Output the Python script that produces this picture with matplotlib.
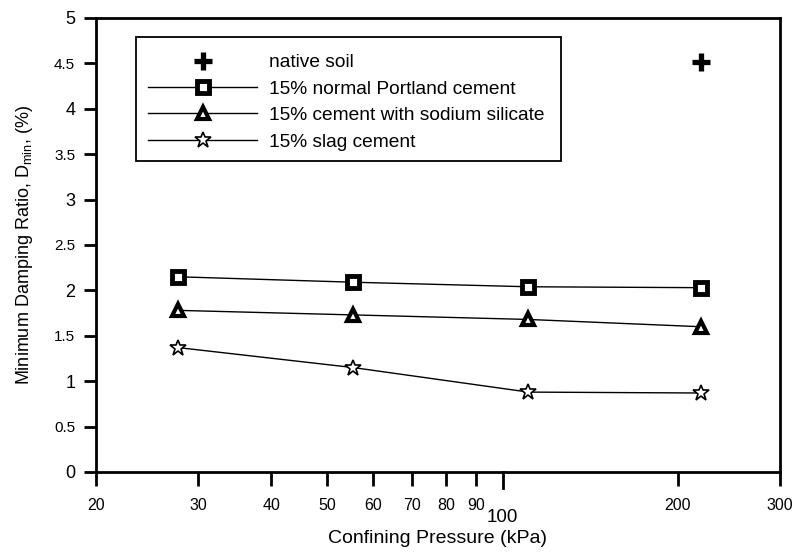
import matplotlib.pyplot as plt
from matplotlib.patches import Rectangle
from matplotlib.ticker import FixedLocator, NullLocator, NullFormatter

plt.rcParams['font.family'] = ['Liberation Sans', 'DejaVu Sans']
plt.rcParams['mathtext.default'] = 'regular'

pressure = [27.7, 55.4, 110.8, 219.0]
native_pressure = [219.0]
native_soil = [4.52]
portland = [2.15, 2.09, 2.04, 2.03]
sodium_silicate = [1.78, 1.73, 1.68, 1.60]
slag = [1.37, 1.15, 0.88, 0.87]

x_ticks = [20, 30, 40, 50, 60, 70, 80, 90, 200, 300]
y_ticks = [0, 0.5, 1, 1.5, 2, 2.5, 3, 3.5, 4, 4.5, 5]


def main():
    fig = plt.figure(figsize=(7.96, 5.52), dpi=100)
    ax = fig.add_axes([96 / 796, 80 / 552, 684 / 796, 454 / 552])

    ax.plot(native_pressure, native_soil, linestyle='none', marker='+',
            markersize=13, markeredgewidth=3.8, color='black', label='native soil')
    ax.plot(pressure, portland, color='black', lw=1, marker='s',
            markersize=8, markerfacecolor='white', markeredgewidth=3.5,
            label='15% normal Portland cement')
    ax.plot(pressure, sodium_silicate, color='black', lw=1, marker='^',
            markersize=9, markerfacecolor='white', markeredgewidth=3,
            label='15% cement with sodium silicate')
    ax.plot(pressure, slag, color='black', lw=1, marker='*',
            markersize=12, markerfacecolor='white', markeredgewidth=1.2,
            label='15% slag cement')

    ax.set_xscale('log')
    ax.set_xlim(20, 300)
    ax.set_ylim(0, 5)

    ax.xaxis.set_major_locator(FixedLocator(x_ticks))
    ax.xaxis.set_minor_locator(NullLocator())
    ax.xaxis.set_minor_formatter(NullFormatter())
    ax.set_xticklabels([str(t) for t in x_ticks], fontsize=11.5)
    ax.tick_params(axis='x', direction='out', length=10, width=2, pad=9)

    # 100 gets a longer tick and a larger label set lower
    ax.axvline(100, ymin=-0.035, ymax=0, color='black', lw=2, clip_on=False)
    ax.text(100, -0.5, '100', ha='center', va='center', fontsize=13.5)

    ax.set_yticks(y_ticks)
    ax.set_yticklabels([str(int(t)) if t == int(t) else str(t) for t in y_ticks])
    for t, lab in zip(y_ticks, ax.get_yticklabels()):
        lab.set_fontsize(13 if t == int(t) else 11)
    ax.tick_params(axis='y', direction='out', length=9, width=2, pad=6)

    for s in ax.spines.values():
        s.set_linewidth(2)

    ax.set_xlabel('Confining Pressure (kPa)', fontsize=14, labelpad=12)
    ax.set_ylabel('Minimum Damping Ratio, D$_{min}$, (%)', fontsize=13, labelpad=14)

    # legend box drawn separately so the padding can differ from the entries
    ax.add_patch(Rectangle((0.0585, 0.685), 0.6215, 0.273, transform=ax.transAxes,
                           facecolor='white', edgecolor='black', lw=1.3, zorder=4))
    leg = ax.legend(loc='upper left', bbox_to_anchor=(0.076, 0.921),
                    fontsize=13.8, frameon=False,
                    handlelength=5.7, handletextpad=0.62, labelspacing=0.47,
                    borderpad=0, borderaxespad=0, numpoints=1)
    leg.set_zorder(5)

    fig.savefig('out.png', dpi=100)
    plt.close(fig)


if __name__ == '__main__':
    main()
